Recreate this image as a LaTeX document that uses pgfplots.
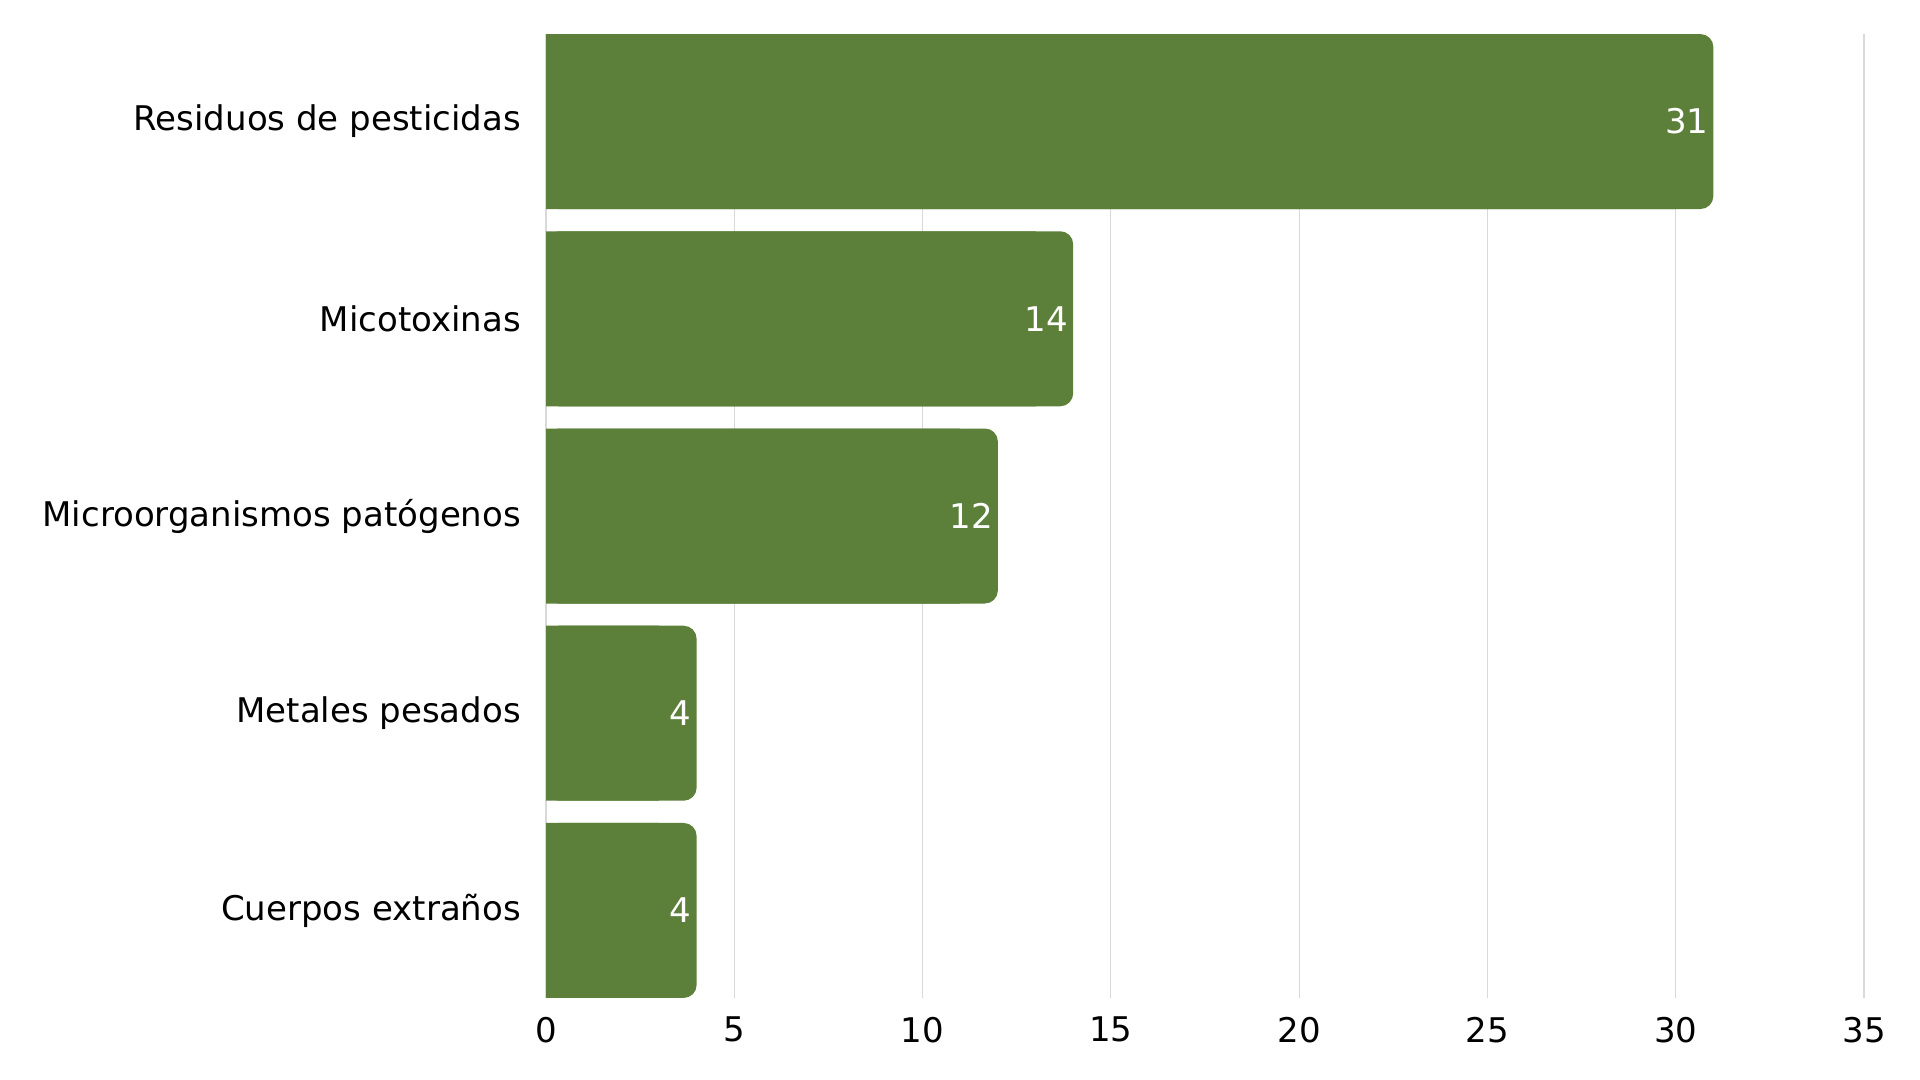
\documentclass[border=0pt]{standalone}
\usepackage{fontspec}
\setmainfont{DejaVu Sans}
\usepackage{pgfplots}
\usepackage{pgfplotstable}
\pgfplotsset{compat=1.18}
\definecolor{barc}{HTML}{5C803A}
\definecolor{gridc}{HTML}{D9D9D9}

\pgfplotstableread{
idx val
0 31
1 14
2 12
3 4
4 4
}\datatable

\begin{document}
\begin{tikzpicture}
\useasboundingbox (0,0) rectangle (960pt,540pt);
\begin{axis}[
  at={(273pt,41pt)}, anchor=south west,
  scale only axis, width=659pt, height=482pt,
  xmin=0, xmax=35, ymin=-0.444, ymax=4.444, y dir=reverse,
  xtick={0,5,...,35}, ytick={0,...,4},
  yticklabels={Residuos de pesticidas, Micotoxinas, Microorganismos patógenos, Metales pesados, Cuerpos extraños},
  axis x line*=bottom, axis y line*=left,
  axis line style={draw=none},
  major tick length=0pt,
  xmajorgrids, grid style={gridc, line width=0.6pt},
  tick label style={font=\fontsize{17}{20}\selectfont, text=black},
  /pgf/number format/assume math mode=true,
  xticklabel style={yshift=-6pt},
  yticklabel style={xshift=-9pt},
  xbar, bar width=87.5pt, bar shift=0pt,
  clip=false,
]
% square left part of each bar
\addplot[fill=barc, draw=none, x filter/.expression={x-1}]
  table[x=val, y=idx] {\datatable};
% full bar with rounded ends and value labels
\addplot[fill=barc, draw=none, rounded corners=6.5pt,
  point meta=x, nodes near coords,
  nodes near coords style={anchor=east, text=white, xshift=1pt,
    font=\fontsize{17}{20}\selectfont}]
  table[x=val, y=idx] {\datatable};
\end{axis}
\end{tikzpicture}
\end{document}
